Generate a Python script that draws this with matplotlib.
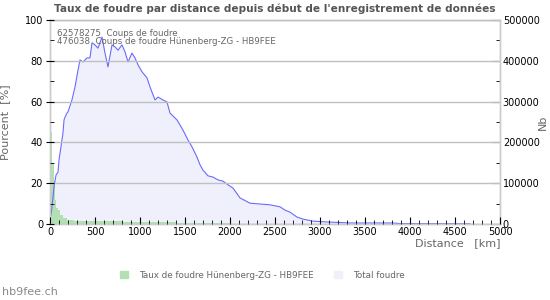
import matplotlib.pyplot as plt
from matplotlib.patches import Patch

# --- DATA ---
# total strikes per distance (right axis, Nb)
dist_total = [11, 33, 44, 67, 89, 100, 122, 144, 156, 167, 189, 200, 244, 278, 311,
              333, 367, 411, 444, 467, 500, 533, 578, 611, 644, 689, 722, 756, 800,
              833, 867, 911, 944, 978, 1022, 1078, 1111, 1167, 1200, 1256, 1300, 1333,
              1411, 1478, 1533, 1578, 1633, 1667, 1700, 1756, 1811, 1867, 1922, 1978,
              2033, 2111, 2222, 2333, 2444, 2556, 2611, 2667, 2744, 2811, 2922, 3078,
              3333, 3811, 3889, 4667]
nb_total = [22000, 64000, 91000, 120000, 127000, 157000, 189000, 223000, 255000, 262000,
            272000, 275000, 304000, 336000, 377000, 402000, 397000, 407000, 407000,
            444000, 439000, 431000, 458000, 419000, 385000, 439000, 434000, 426000,
            439000, 422000, 397000, 419000, 407000, 390000, 373000, 358000, 336000,
            304000, 311000, 304000, 299000, 272000, 255000, 230000, 206000, 189000,
            164000, 145000, 132000, 118000, 115000, 108000, 105000, 96000, 88000, 64000,
            51000, 49000, 47000, 42000, 34000, 29000, 17000, 12000, 7000, 5000, 2500,
            2500, 1000, 500]

# local rate per distance bin (left axis, %)
dist_local = [0, 20, 40, 60, 70, 90, 110, 140, 190, 270, 800, 1400, 2000]
pct_local = [45, 30, 21, 12, 8, 7, 4.5, 3, 2, 1.5, 1.0, 0.3, 0]

n_total = "62578275"
n_local = "476038"

green = '#b3e0b3'
lav = '#f0f0fc'
blue = '#6a6aff'
grey = '#666666'

plt.rcParams['font.family'] = 'DejaVu Sans'
fig = plt.figure(figsize=(5.5, 3), dpi=100)
ax = fig.add_axes([50/550, 1-224/300, 450/550, 204/300])
ax2 = ax.twinx()

# green % on top, total Nb behind
ax.set_zorder(ax2.get_zorder() + 1)
ax.patch.set_visible(False)

ax2.fill_between(dist_total, nb_total, color=lav, lw=0)
ax.fill_between(dist_local, pct_local, step='post', color=green, lw=0)
ax.plot(dist_total, nb_total, color=blue, lw=0.8, transform=ax2.transData)

ax.set_xlim(0, 5000)
ax.set_ylim(0, 100)
ax2.set_ylim(0, 500000)

ax.set_xticks(range(0, 5001, 500))
ax.set_xticks(range(0, 5001, 100), minor=True)
ax.set_yticks(range(0, 101, 20))
ax.set_yticks(range(0, 101, 10), minor=True)
ax2.set_yticks(range(0, 500001, 100000))
ax2.set_yticks(range(0, 500001, 50000), minor=True)

ax.grid(axis='y', color='#c0c0c0', lw=1)
ax.set_axisbelow(False)

for a in (ax, ax2):
    for s in a.spines.values():
        s.set_color('#cccccc')
        s.set_linewidth(1)
ax.tick_params(axis='x', which='both', direction='in', labelsize=7, pad=2, color='black')
ax.tick_params(axis='x', which='major', length=5)
ax.tick_params(axis='x', which='minor', length=3)
ax.tick_params(axis='y', which='major', direction='inout', length=6, labelsize=7, pad=2)
ax.tick_params(axis='y', which='minor', direction='in', length=3)
ax2.tick_params(axis='y', which='major', direction='in', length=6, labelsize=7, pad=2)
ax2.tick_params(axis='y', which='minor', direction='in', length=3)

ax.set_ylabel('Pourcent  [%]', color=grey, fontsize=8)
ax.yaxis.set_label_coords(-0.088, 0.5)
ax2.set_ylabel('Nb', color=grey, fontsize=8)
ax2.yaxis.set_label_coords(1.085, 0.5)
ax.text(1.0, -0.07, 'Distance   [km]', transform=ax.transAxes, ha='right', va='top',
        color=grey, fontsize=8)

ax.text(0.016, 0.935, f'{n_total}  Coups de foudre', transform=ax.transAxes,
        color=grey, fontsize=6.2, va='center')
ax.text(0.016, 0.895, f'{n_local}  Coups de foudre Hünenberg-ZG - HB9FEE',
        transform=ax.transAxes, color=grey, fontsize=6.2, va='center')

fig.text(0.5, 1-9/300, "Taux de foudre par distance depuis début de l'enregistrement de données",
         ha='center', va='center', fontsize=7.6, fontweight='bold', color='#555555')

handles = [Patch(color=green), Patch(color=lav)]
fig.legend(handles, ['Taux de foudre Hünenberg-ZG - HB9FEE', 'Total foudre'],
           loc='center', bbox_to_anchor=(262/550, 1-275/300), ncol=2, frameon=False,
           fontsize=6.3, labelcolor=grey, handlelength=1.0, handleheight=1.0,
           handletextpad=1.2, columnspacing=2.3)

fig.text(2/550, 1-292/300, 'hb9fee.ch', fontsize=8, color='#888888', va='center')

fig.savefig('out.png', dpi=100)
